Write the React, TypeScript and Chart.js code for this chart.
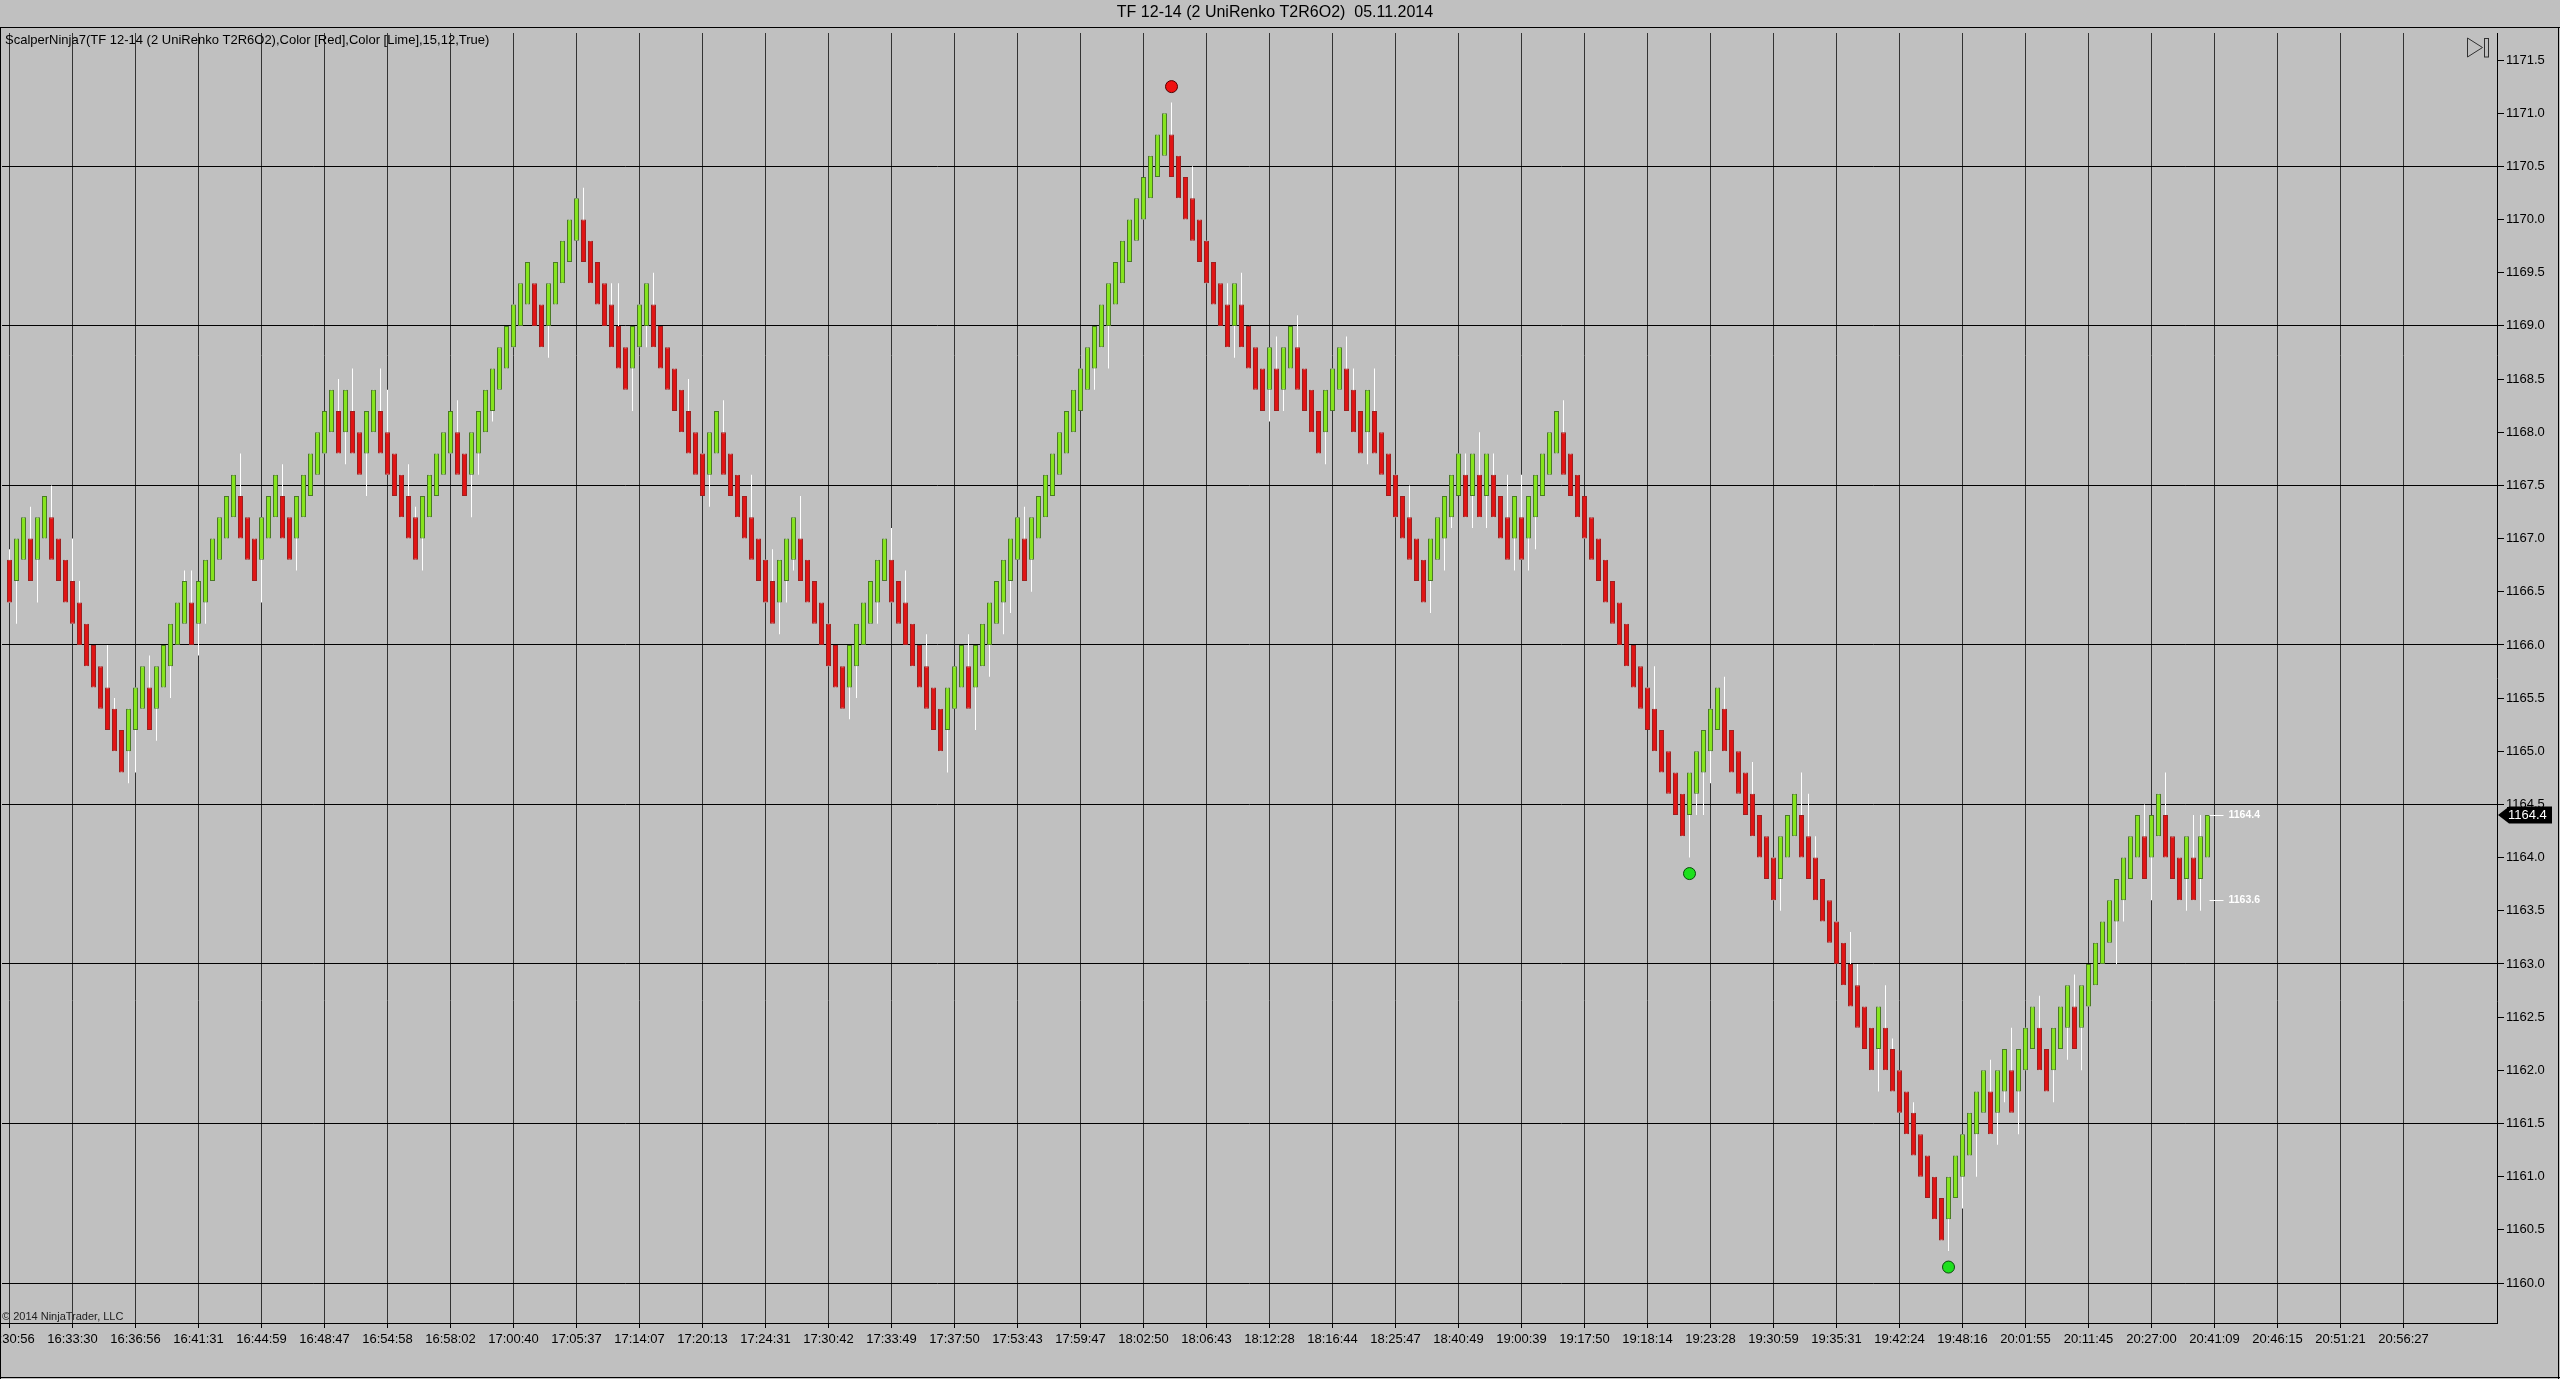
import React, { useEffect, useRef } from 'react';
import { Chart, registerables } from 'chart.js';

Chart.register(...registerables);

// ---------------- data ----------------
const chartTitle = 'TF 12-14 (2 UniRenko T2R6O2)  05.11.2014';
const indicatorLabel = 'ScalperNinja7(TF 12-14 (2 UniRenko T2R6O2),Color [Red],Color [Lime],15,12,True)';
const copyrightLabel = '\u00A9 2014 NinjaTrader, LLC';

const timeLabels = [
  '16:30:56', '16:33:30', '16:36:56', '16:41:31', '16:44:59', '16:48:47', '16:54:58', '16:58:02',
  '17:00:40', '17:05:37', '17:14:07', '17:20:13', '17:24:31', '17:30:42', '17:33:49', '17:37:50',
  '17:53:43', '17:59:47', '18:02:50', '18:06:43', '18:12:28', '18:16:44', '18:25:47', '18:40:49',
  '19:00:39', '19:17:50', '19:18:14', '19:23:28', '19:30:59', '19:35:31', '19:42:24', '19:48:16',
  '20:01:55', '20:11:45', '20:27:00', '20:41:09', '20:46:15', '20:51:21', '20:56:27',
];
const BARS_PER_LABEL = 9;

const opens = [
  1166.8, 1166.6, 1166.8, 1167.0, 1166.8, 1167.0, 1167.2, 1167.0, 1166.8, 1166.6,
  1166.4, 1166.2, 1166.0, 1165.8, 1165.6, 1165.4, 1165.2, 1165.0, 1165.2, 1165.4,
  1165.6, 1165.4, 1165.6, 1165.8, 1166.0, 1166.2, 1166.4, 1166.2, 1166.4, 1166.6,
  1166.8, 1167.0, 1167.2, 1167.4, 1167.2, 1167.0, 1166.8, 1167.0, 1167.2, 1167.4,
  1167.2, 1167.0, 1167.2, 1167.4, 1167.6, 1167.8, 1168.0, 1168.2, 1168.0, 1168.2,
  1168.0, 1167.8, 1168.0, 1168.2, 1168.0, 1167.8, 1167.6, 1167.4, 1167.2, 1167.0,
  1167.2, 1167.4, 1167.6, 1167.8, 1168.0, 1167.8, 1167.6, 1167.8, 1168.0, 1168.2,
  1168.4, 1168.6, 1168.8, 1169.0, 1169.2, 1169.4, 1169.2, 1169.0, 1169.2, 1169.4,
  1169.6, 1169.8, 1170.0, 1169.8, 1169.6, 1169.4, 1169.2, 1169.0, 1168.8, 1168.6,
  1168.8, 1169.0, 1169.2, 1169.0, 1168.8, 1168.6, 1168.4, 1168.2, 1168.0, 1167.8,
  1167.6, 1167.8, 1168.0, 1167.8, 1167.6, 1167.4, 1167.2, 1167.0, 1166.8, 1166.6,
  1166.4, 1166.6, 1166.8, 1167.0, 1166.8, 1166.6, 1166.4, 1166.2, 1166.0, 1165.8,
  1165.6, 1165.8, 1166.0, 1166.2, 1166.4, 1166.6, 1166.8, 1166.6, 1166.4, 1166.2,
  1166.0, 1165.8, 1165.6, 1165.4, 1165.2, 1165.4, 1165.6, 1165.8, 1165.6, 1165.8,
  1166.0, 1166.2, 1166.4, 1166.6, 1166.8, 1167.0, 1166.8, 1167.0, 1167.2, 1167.4,
  1167.6, 1167.8, 1168.0, 1168.2, 1168.4, 1168.6, 1168.8, 1169.0, 1169.2, 1169.4,
  1169.6, 1169.8, 1170.0, 1170.2, 1170.4, 1170.6, 1170.8, 1170.6, 1170.4, 1170.2,
  1170.0, 1169.8, 1169.6, 1169.4, 1169.2, 1169.0, 1169.2, 1169.0, 1168.8, 1168.6,
  1168.4, 1168.6, 1168.4, 1168.6, 1168.8, 1168.6, 1168.4, 1168.2, 1168.0, 1168.2,
  1168.4, 1168.6, 1168.4, 1168.2, 1168.0, 1168.2, 1168.0, 1167.8, 1167.6, 1167.4,
  1167.2, 1167.0, 1166.8, 1166.6, 1166.8, 1167.0, 1167.2, 1167.4, 1167.6, 1167.4,
  1167.6, 1167.4, 1167.6, 1167.4, 1167.2, 1167.0, 1167.2, 1167.0, 1167.2, 1167.4,
  1167.6, 1167.8, 1168.0, 1167.8, 1167.6, 1167.4, 1167.2, 1167.0, 1166.8, 1166.6,
  1166.4, 1166.2, 1166.0, 1165.8, 1165.6, 1165.4, 1165.2, 1165.0, 1164.8, 1164.6,
  1164.4, 1164.6, 1164.8, 1165.0, 1165.2, 1165.4, 1165.2, 1165.0, 1164.8, 1164.6,
  1164.4, 1164.2, 1164.0, 1163.8, 1164.0, 1164.2, 1164.4, 1164.2, 1164.0, 1163.8,
  1163.6, 1163.4, 1163.2, 1163.0, 1162.8, 1162.6, 1162.4, 1162.2, 1162.4, 1162.2,
  1162.0, 1161.8, 1161.6, 1161.4, 1161.2, 1161.0, 1160.8, 1160.6, 1160.8, 1161.0,
  1161.2, 1161.4, 1161.6, 1161.8, 1161.6, 1161.8, 1162.0, 1161.8, 1162.0, 1162.2,
  1162.4, 1162.2, 1162.0, 1162.2, 1162.4, 1162.6, 1162.4, 1162.6, 1162.8, 1163.0,
  1163.2, 1163.4, 1163.6, 1163.8, 1164.0, 1164.2, 1164.0, 1164.2, 1164.4, 1164.2,
  1164.0, 1163.8, 1164.0, 1163.8, 1164.0,
];

const closes = [
  1166.4, 1167.0, 1167.2, 1166.6, 1167.2, 1167.4, 1166.8, 1166.6, 1166.4, 1166.2,
  1166.0, 1165.8, 1165.6, 1165.4, 1165.2, 1165.0, 1164.8, 1165.4, 1165.6, 1165.8,
  1165.2, 1165.8, 1166.0, 1166.2, 1166.4, 1166.6, 1166.0, 1166.6, 1166.8, 1167.0,
  1167.2, 1167.4, 1167.6, 1167.0, 1166.8, 1166.6, 1167.2, 1167.4, 1167.6, 1167.0,
  1166.8, 1167.4, 1167.6, 1167.8, 1168.0, 1168.2, 1168.4, 1167.8, 1168.4, 1167.8,
  1167.6, 1168.2, 1168.4, 1167.8, 1167.6, 1167.4, 1167.2, 1167.0, 1166.8, 1167.4,
  1167.6, 1167.8, 1168.0, 1168.2, 1167.6, 1167.4, 1168.0, 1168.2, 1168.4, 1168.6,
  1168.8, 1169.0, 1169.2, 1169.4, 1169.6, 1169.0, 1168.8, 1169.4, 1169.6, 1169.8,
  1170.0, 1170.2, 1169.6, 1169.4, 1169.2, 1169.0, 1168.8, 1168.6, 1168.4, 1169.0,
  1169.2, 1169.4, 1168.8, 1168.6, 1168.4, 1168.2, 1168.0, 1167.8, 1167.6, 1167.4,
  1168.0, 1168.2, 1167.6, 1167.4, 1167.2, 1167.0, 1166.8, 1166.6, 1166.4, 1166.2,
  1166.8, 1167.0, 1167.2, 1166.6, 1166.4, 1166.2, 1166.0, 1165.8, 1165.6, 1165.4,
  1166.0, 1166.2, 1166.4, 1166.6, 1166.8, 1167.0, 1166.4, 1166.2, 1166.0, 1165.8,
  1165.6, 1165.4, 1165.2, 1165.0, 1165.6, 1165.8, 1166.0, 1165.4, 1166.0, 1166.2,
  1166.4, 1166.6, 1166.8, 1167.0, 1167.2, 1166.6, 1167.2, 1167.4, 1167.6, 1167.8,
  1168.0, 1168.2, 1168.4, 1168.6, 1168.8, 1169.0, 1169.2, 1169.4, 1169.6, 1169.8,
  1170.0, 1170.2, 1170.4, 1170.6, 1170.8, 1171.0, 1170.4, 1170.2, 1170.0, 1169.8,
  1169.6, 1169.4, 1169.2, 1169.0, 1168.8, 1169.4, 1168.8, 1168.6, 1168.4, 1168.2,
  1168.8, 1168.2, 1168.8, 1169.0, 1168.4, 1168.2, 1168.0, 1167.8, 1168.4, 1168.6,
  1168.8, 1168.2, 1168.0, 1167.8, 1168.4, 1167.8, 1167.6, 1167.4, 1167.2, 1167.0,
  1166.8, 1166.6, 1166.4, 1167.0, 1167.2, 1167.4, 1167.6, 1167.8, 1167.2, 1167.8,
  1167.2, 1167.8, 1167.2, 1167.0, 1166.8, 1167.4, 1166.8, 1167.4, 1167.6, 1167.8,
  1168.0, 1168.2, 1167.6, 1167.4, 1167.2, 1167.0, 1166.8, 1166.6, 1166.4, 1166.2,
  1166.0, 1165.8, 1165.6, 1165.4, 1165.2, 1165.0, 1164.8, 1164.6, 1164.4, 1164.2,
  1164.8, 1165.0, 1165.2, 1165.4, 1165.6, 1165.0, 1164.8, 1164.6, 1164.4, 1164.2,
  1164.0, 1163.8, 1163.6, 1164.2, 1164.4, 1164.6, 1164.0, 1163.8, 1163.6, 1163.4,
  1163.2, 1163.0, 1162.8, 1162.6, 1162.4, 1162.2, 1162.0, 1162.6, 1162.0, 1161.8,
  1161.6, 1161.4, 1161.2, 1161.0, 1160.8, 1160.6, 1160.4, 1161.0, 1161.2, 1161.4,
  1161.6, 1161.8, 1162.0, 1161.4, 1162.0, 1162.2, 1161.6, 1162.2, 1162.4, 1162.6,
  1162.0, 1161.8, 1162.4, 1162.6, 1162.8, 1162.2, 1162.8, 1163.0, 1163.2, 1163.4,
  1163.6, 1163.8, 1164.0, 1164.2, 1164.4, 1163.8, 1164.4, 1164.6, 1164.0, 1163.8,
  1163.6, 1164.2, 1163.6, 1164.2, 1164.4,
];

const highs = [
  1166.9, 1167.0, 1167.2, 1167.3, 1167.2, 1167.4, 1167.5, 1167.0, 1166.8, 1167.0,
  1166.6, 1166.2, 1166.0, 1165.8, 1166.0, 1165.5, 1165.2, 1165.4, 1165.6, 1165.8,
  1165.9, 1165.8, 1166.0, 1166.2, 1166.4, 1166.7, 1166.7, 1166.6, 1166.8, 1167.0,
  1167.2, 1167.4, 1167.6, 1167.8, 1167.2, 1167.0, 1167.2, 1167.4, 1167.6, 1167.7,
  1167.2, 1167.4, 1167.6, 1167.8, 1168.0, 1168.2, 1168.4, 1168.5, 1168.4, 1168.6,
  1168.0, 1168.2, 1168.4, 1168.6, 1168.4, 1167.8, 1167.6, 1167.7, 1167.3, 1167.4,
  1167.6, 1167.8, 1168.0, 1168.2, 1168.3, 1167.8, 1168.0, 1168.2, 1168.4, 1168.6,
  1168.8, 1169.0, 1169.2, 1169.4, 1169.6, 1169.4, 1169.2, 1169.4, 1169.6, 1169.8,
  1170.0, 1170.2, 1170.3, 1169.8, 1169.6, 1169.4, 1169.4, 1169.4, 1168.8, 1169.0,
  1169.2, 1169.4, 1169.5, 1169.0, 1168.8, 1168.6, 1168.4, 1168.5, 1168.0, 1167.8,
  1168.0, 1168.2, 1168.3, 1167.8, 1167.6, 1167.4, 1167.6, 1167.0, 1166.8, 1166.9,
  1166.8, 1167.0, 1167.2, 1167.4, 1166.8, 1166.6, 1166.4, 1166.2, 1166.0, 1165.8,
  1166.0, 1166.2, 1166.4, 1166.6, 1166.8, 1167.0, 1167.1, 1166.6, 1166.7, 1166.2,
  1166.0, 1166.1, 1165.6, 1165.4, 1165.6, 1165.8, 1166.0, 1166.1, 1166.0, 1166.2,
  1166.4, 1166.6, 1166.8, 1167.0, 1167.2, 1167.3, 1167.2, 1167.4, 1167.6, 1167.8,
  1168.0, 1168.2, 1168.4, 1168.6, 1168.8, 1169.0, 1169.2, 1169.4, 1169.6, 1169.8,
  1170.0, 1170.2, 1170.4, 1170.6, 1170.8, 1171.0, 1171.1, 1170.6, 1170.4, 1170.5,
  1170.0, 1169.8, 1169.6, 1169.4, 1169.4, 1169.4, 1169.5, 1169.0, 1168.8, 1168.6,
  1168.8, 1168.9, 1168.8, 1169.0, 1169.1, 1168.6, 1168.4, 1168.2, 1168.4, 1168.6,
  1168.8, 1168.9, 1168.6, 1168.2, 1168.4, 1168.6, 1168.0, 1167.8, 1167.6, 1167.4,
  1167.5, 1167.0, 1166.8, 1167.0, 1167.2, 1167.4, 1167.6, 1167.8, 1167.8, 1167.8,
  1168.0, 1167.8, 1167.8, 1167.4, 1167.6, 1167.4, 1167.6, 1167.4, 1167.6, 1167.8,
  1168.0, 1168.2, 1168.3, 1167.8, 1167.6, 1167.4, 1167.2, 1167.0, 1166.8, 1166.6,
  1166.4, 1166.2, 1166.0, 1165.8, 1165.6, 1165.8, 1165.2, 1165.0, 1164.8, 1164.6,
  1164.8, 1165.0, 1165.2, 1165.4, 1165.6, 1165.7, 1165.2, 1165.0, 1164.8, 1164.9,
  1164.4, 1164.2, 1164.0, 1164.2, 1164.4, 1164.6, 1164.8, 1164.6, 1164.2, 1163.8,
  1163.6, 1163.4, 1163.2, 1163.3, 1163.0, 1162.6, 1162.4, 1162.6, 1162.8, 1162.3,
  1162.0, 1161.8, 1161.7, 1161.4, 1161.2, 1161.0, 1160.8, 1161.0, 1161.2, 1161.4,
  1161.6, 1161.8, 1162.0, 1162.1, 1162.0, 1162.2, 1162.4, 1162.2, 1162.4, 1162.6,
  1162.7, 1162.2, 1162.4, 1162.6, 1162.8, 1162.9, 1162.8, 1163.0, 1163.2, 1163.4,
  1163.6, 1163.8, 1164.0, 1164.2, 1164.4, 1164.5, 1164.4, 1164.6, 1164.8, 1164.2,
  1164.0, 1164.2, 1164.4, 1164.4, 1164.4,
];

const lows = [
  1166.4, 1166.2, 1166.8, 1166.6, 1166.4, 1167.0, 1166.8, 1166.6, 1166.4, 1166.2,
  1166.0, 1165.8, 1165.6, 1165.4, 1165.2, 1165.0, 1164.8, 1164.7, 1164.8, 1165.4,
  1165.2, 1165.1, 1165.6, 1165.5, 1166.0, 1166.2, 1166.0, 1165.9, 1166.2, 1166.6,
  1166.8, 1167.0, 1167.2, 1167.0, 1166.8, 1166.6, 1166.4, 1167.0, 1167.2, 1167.0,
  1166.8, 1166.7, 1167.2, 1167.4, 1167.6, 1167.8, 1168.0, 1167.8, 1167.7, 1167.8,
  1167.6, 1167.4, 1168.0, 1167.8, 1167.6, 1167.4, 1167.2, 1167.0, 1166.8, 1166.7,
  1167.2, 1167.4, 1167.6, 1167.8, 1167.6, 1167.4, 1167.2, 1167.6, 1168.0, 1168.1,
  1168.4, 1168.6, 1168.8, 1169.0, 1169.2, 1169.0, 1168.8, 1168.7, 1169.2, 1169.4,
  1169.6, 1169.8, 1169.6, 1169.4, 1169.2, 1169.0, 1168.8, 1168.6, 1168.4, 1168.2,
  1168.8, 1168.8, 1168.8, 1168.6, 1168.4, 1168.2, 1168.0, 1167.8, 1167.6, 1167.4,
  1167.3, 1167.8, 1167.6, 1167.4, 1167.2, 1167.0, 1166.8, 1166.6, 1166.4, 1166.2,
  1166.1, 1166.4, 1166.7, 1166.6, 1166.4, 1166.2, 1166.0, 1165.8, 1165.6, 1165.4,
  1165.3, 1165.5, 1166.0, 1166.2, 1166.2, 1166.6, 1166.4, 1166.2, 1166.0, 1165.8,
  1165.6, 1165.4, 1165.2, 1165.0, 1164.8, 1165.4, 1165.6, 1165.4, 1165.2, 1165.8,
  1165.7, 1166.2, 1166.1, 1166.3, 1166.8, 1166.6, 1166.5, 1167.0, 1167.2, 1167.4,
  1167.6, 1167.8, 1168.0, 1168.2, 1168.4, 1168.4, 1168.8, 1168.6, 1169.2, 1169.4,
  1169.6, 1169.8, 1170.0, 1170.2, 1170.4, 1170.6, 1170.4, 1170.2, 1170.0, 1169.8,
  1169.6, 1169.4, 1169.2, 1169.0, 1168.8, 1168.7, 1168.8, 1168.6, 1168.4, 1168.2,
  1168.1, 1168.2, 1168.2, 1168.6, 1168.4, 1168.2, 1168.0, 1167.8, 1167.7, 1168.2,
  1168.4, 1168.2, 1168.0, 1167.8, 1167.7, 1167.8, 1167.6, 1167.4, 1167.2, 1167.0,
  1166.8, 1166.6, 1166.4, 1166.3, 1166.8, 1166.7, 1167.1, 1167.4, 1167.2, 1167.1,
  1167.2, 1167.1, 1167.2, 1167.0, 1166.8, 1166.7, 1166.8, 1166.7, 1166.9, 1167.4,
  1167.6, 1167.8, 1167.6, 1167.4, 1167.2, 1167.0, 1166.8, 1166.6, 1166.4, 1166.2,
  1166.0, 1165.8, 1165.6, 1165.4, 1165.2, 1165.0, 1164.8, 1164.6, 1164.4, 1164.2,
  1164.0, 1164.4, 1164.4, 1164.7, 1165.2, 1165.0, 1164.8, 1164.6, 1164.4, 1164.2,
  1164.0, 1163.8, 1163.6, 1163.5, 1164.0, 1164.2, 1164.0, 1163.8, 1163.6, 1163.4,
  1163.2, 1163.0, 1162.8, 1162.6, 1162.4, 1162.2, 1162.0, 1161.8, 1162.0, 1161.8,
  1161.6, 1161.4, 1161.2, 1161.0, 1160.8, 1160.6, 1160.4, 1160.3, 1160.8, 1160.7,
  1161.2, 1161.0, 1161.6, 1161.4, 1161.3, 1161.7, 1161.6, 1161.4, 1162.0, 1162.2,
  1162.0, 1161.8, 1161.7, 1162.2, 1162.1, 1162.2, 1162.0, 1162.6, 1162.8, 1163.0,
  1163.2, 1163.0, 1163.4, 1163.8, 1164.0, 1163.8, 1163.6, 1164.2, 1164.0, 1163.8,
  1163.6, 1163.5, 1163.6, 1163.5, 1164.0,
];

const priceTicks = [
  1160.0, 1160.5, 1161.0, 1161.5, 1162.0, 1162.5, 1163.0, 1163.5, 1164.0, 1164.5, 1165.0, 1165.5,
  1166.0, 1166.5, 1167.0, 1167.5, 1168.0, 1168.5, 1169.0, 1169.5, 1170.0, 1170.5, 1171.0, 1171.5,
];
const gridPrices = [1160.0, 1161.5, 1163.0, 1164.5, 1166.0, 1167.5, 1169.0, 1170.5];

const sellDotBars = [166];
const sellDotPrices = [1171.25];
const buyDotBars = [240, 277];
const buyDotPrices = [1163.85, 1160.15];

const levelPrices = [1164.4, 1163.6];

// ---------------- styling ----------------
const W = 2560;
const H = 1379;
const FONT = "'Liberation Sans', Arial, Helvetica, sans-serif";
const BG = '#c0c0c0';
const UP_FILL = '#86e41e';
const UP_BORDER = '#4a7a26';
const DOWN_FILL = '#e01414';
const DOWN_BORDER = '#9c2020';

const PLOT_LEFT = 2;
const PLOT_TOP = 33;
const PLOT_RIGHT = 2497;
const PLOT_BOTTOM = 1323;
const FRAME_TOP = 27;
const BAR_STEP_PX = 7;
const FIRST_BAR_PX = 9.5;

const X_MIN = (PLOT_LEFT - FIRST_BAR_PX) / BAR_STEP_PX;
const X_MAX = (PLOT_RIGHT - FIRST_BAR_PX) / BAR_STEP_PX;
const Y_MAX = 1171.754;
const Y_MIN = 1159.624;

const decorations = {
  id: 'decorations',
  beforeDraw(chart: any) {
    const { ctx, width, height } = chart;
    ctx.save();
    ctx.fillStyle = BG;
    ctx.fillRect(0, 0, width, height);
    ctx.restore();
  },
  afterDraw(chart: any) {
    const { ctx, width, height, chartArea } = chart;
    const xs = chart.scales.x;
    const ys = chart.scales.y;
    ctx.save();

    // outer frame
    ctx.strokeStyle = '#000';
    ctx.lineWidth = 1;
    ctx.beginPath();
    ctx.moveTo(0, FRAME_TOP + 0.5);
    ctx.lineTo(width, FRAME_TOP + 0.5);
    ctx.moveTo(0.5, FRAME_TOP);
    ctx.lineTo(0.5, height);
    ctx.moveTo(width - 1.5, FRAME_TOP);
    ctx.lineTo(width - 1.5, height);
    ctx.moveTo(0, height - 1.5);
    ctx.lineTo(width, height - 1.5);
    ctx.moveTo(0, chartArea.bottom + 0.5);
    ctx.lineTo(chartArea.left, chartArea.bottom + 0.5);
    ctx.stroke();

    // title
    ctx.fillStyle = '#000';
    ctx.textBaseline = 'middle';
    ctx.textAlign = 'center';
    ctx.font = `16px ${FONT}`;
    ctx.fillText(chartTitle, width / 2 - 5, 13);

    // indicator label
    ctx.textAlign = 'left';
    ctx.font = `13px ${FONT}`;
    ctx.fillText(indicatorLabel, 5, 40);

    // copyright
    ctx.fillStyle = '#202020';
    ctx.font = `11px ${FONT}`;
    ctx.fillText(copyrightLabel, 2, chartArea.bottom - 6);

    // "go to end" icon
    ctx.strokeStyle = '#303030';
    ctx.beginPath();
    const ix = chartArea.right - 29.5;
    ctx.moveTo(ix, 38);
    ctx.lineTo(ix, 57);
    ctx.lineTo(ix + 15, 47.5);
    ctx.closePath();
    ctx.stroke();
    ctx.strokeRect(ix + 17, 38.5, 4, 18.5);

    // indicator level labels (white dash + value)
    const lastX = xs.getPixelForValue(closes.length - 1);
    ctx.strokeStyle = '#ffffff';
    ctx.fillStyle = '#ffffff';
    ctx.font = `bold 10.5px ${FONT}`;
    levelPrices.forEach((p) => {
      const y = Math.round(ys.getPixelForValue(p)) + 0.5;
      ctx.beginPath();
      ctx.moveTo(lastX + 2, y);
      ctx.lineTo(lastX + 16, y);
      ctx.stroke();
      ctx.fillText(p.toFixed(1), lastX + 21, y);
    });

    // last price marker on the axis
    const lastPrice = closes[closes.length - 1];
    const my = ys.getPixelForValue(lastPrice);
    const ax = chartArea.right + 1;
    ctx.fillStyle = '#000';
    ctx.beginPath();
    ctx.moveTo(ax, my);
    ctx.lineTo(ax + 11, my - 8.5);
    ctx.lineTo(ax + 54, my - 8.5);
    ctx.lineTo(ax + 54, my + 8.5);
    ctx.lineTo(ax + 11, my + 8.5);
    ctx.closePath();
    ctx.fill();
    ctx.fillStyle = '#ffffff';
    ctx.font = `13px ${FONT}`;
    ctx.fillText(lastPrice.toFixed(1), ax + 10, my + 0.5);

    ctx.restore();
  },
};

export default function App() {
  const canvasRef = useRef<HTMLCanvasElement | null>(null);

  useEffect(() => {
    document.body.style.margin = '0';
    document.body.style.overflow = 'hidden';
    document.body.style.background = BG;
    const canvas = canvasRef.current;
    if (!canvas) return;

    const bodyData = closes.map((c, i) => ({ x: i, y: [opens[i], c] }));
    const wickData = closes.map((_, i) => ({ x: i, y: [lows[i], highs[i]] }));
    const bodyFill = closes.map((c, i) => (c >= opens[i] ? UP_FILL : DOWN_FILL));
    const bodyBorder = closes.map((c, i) => (c >= opens[i] ? UP_BORDER : DOWN_BORDER));

    const chart = new Chart(canvas, {
      type: 'bar',
      data: {
        datasets: [
          {
            type: 'scatter',
            data: sellDotBars.map((b, k) => ({ x: b, y: sellDotPrices[k] })),
            pointRadius: 6,
            pointBackgroundColor: '#f01010',
            pointBorderColor: '#500000',
            pointBorderWidth: 1,
            order: -2,
          } as any,
          {
            type: 'scatter',
            data: buyDotBars.map((b, k) => ({ x: b, y: buyDotPrices[k] })),
            pointRadius: 6,
            pointBackgroundColor: '#1ee01e',
            pointBorderColor: '#0a4a0a',
            pointBorderWidth: 1,
            order: -1,
          } as any,
          {
            type: 'bar',
            data: bodyData as any,
            backgroundColor: bodyFill,
            borderColor: bodyBorder,
            borderWidth: 1,
            borderSkipped: false,
            barThickness: 5,
            grouped: false,
            inflateAmount: 0,
            order: 0,
          } as any,
          {
            type: 'bar',
            data: wickData as any,
            backgroundColor: '#ffffff',
            borderWidth: 0,
            barThickness: 1,
            grouped: false,
            inflateAmount: 0,
            order: 1,
          } as any,
        ],
      },
      options: {
        animation: false,
        responsive: false,
        devicePixelRatio: 1,
        events: [],
        layout: {
          autoPadding: false,
          padding: { left: PLOT_LEFT, top: PLOT_TOP, right: 0, bottom: 0 },
        },
        plugins: {
          legend: { display: false },
          tooltip: { enabled: false },
        },
        scales: {
          x: {
            type: 'linear',
            min: X_MIN,
            max: X_MAX,
            offset: false,
            bounds: 'data',
            afterBuildTicks: (scale: any) => {
              scale.ticks = timeLabels.map((_, k) => ({ value: k * BARS_PER_LABEL }));
            },
            afterFit: (scale: any) => {
              scale.height = H - PLOT_BOTTOM;
              scale.paddingLeft = 0;
              scale.paddingRight = 0;
            },
            ticks: {
              autoSkip: false,
              maxRotation: 0,
              minRotation: 0,
              padding: 4,
              color: '#000',
              font: { family: FONT, size: 13 },
              callback: (_v: any, idx: number) => timeLabels[idx],
            },
            grid: {
              offset: false,
              color: '#333333',
              lineWidth: 1,
              tickLength: 5,
              tickColor: '#000',
            },
            border: { display: true, color: '#000', width: 1 },
          } as any,
          y: {
            type: 'linear',
            position: 'right',
            min: Y_MIN,
            max: Y_MAX,
            beginAtZero: false,
            afterBuildTicks: (scale: any) => {
              scale.ticks = priceTicks.map((v) => ({ value: v }));
            },
            afterFit: (scale: any) => {
              scale.width = W - PLOT_RIGHT;
              scale.paddingTop = 0;
              scale.paddingBottom = 0;
            },
            ticks: {
              autoSkip: false,
              padding: 2,
              color: '#000',
              font: { family: FONT, size: 13 },
              callback: (v: any) => Number(v).toFixed(1),
            },
            grid: {
              color: (ctx: any) =>
                ctx.tick && gridPrices.includes(ctx.tick.value) ? '#000000' : 'rgba(0,0,0,0)',
              lineWidth: 1,
              tickLength: 7,
              tickColor: '#000',
            },
            border: { display: true, color: '#000', width: 1 },
          } as any,
        },
      },
      plugins: [decorations],
    });

    return () => {
      chart.destroy();
    };
  }, []);

  return (
    <div style={{ position: 'absolute', left: 0, top: 0, width: W, height: H, overflow: 'hidden' }}>
      <canvas ref={canvasRef} width={W} height={H} style={{ width: W, height: H, display: 'block' }} />
    </div>
  );
}
